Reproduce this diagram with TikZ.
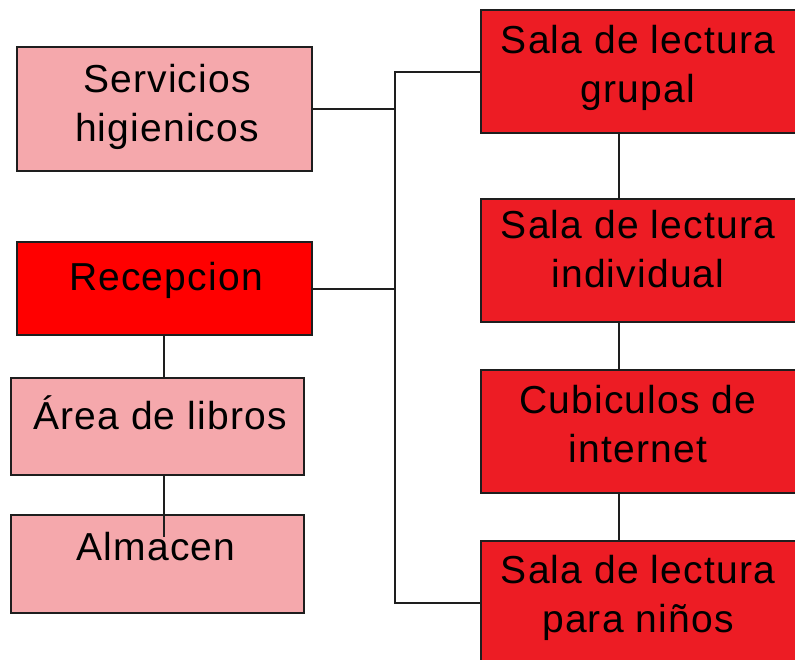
\documentclass[tikz,border=0pt]{standalone}
\usepackage{fontspec}
\setmainfont{Liberation Sans}[LetterSpace=3]
\definecolor{pinkbox}{RGB}{245,168,172}
\definecolor{recred}{RGB}{255,0,0}
\definecolor{salared}{RGB}{237,28,36}
\definecolor{edge}{RGB}{30,30,30}
\tikzset{
  box/.style={draw=edge, line width=2pt, inner sep=0pt, outer sep=0pt},
  pinkb/.style={box, fill=pinkbox},
  redb/.style={box, fill=recred},
  salab/.style={box, fill=salared, minimum width=316pt, minimum height=123pt},
  lbl/.style={font=\fontsize{39}{49}\selectfont, align=center, inner sep=0pt, text=black},
  conn/.style={draw=edge, line width=2pt}
}
\begin{document}
\begin{tikzpicture}[x=1pt,y=-1pt]
\useasboundingbox (0,0) rectangle (795,659);
\clip (0,0) rectangle (795,659);
\fill[white] (0,0) rectangle (795,659);
% left boxes
\node[pinkb, minimum width=295pt, minimum height=124pt] (serv) at (164.5,109) {};
\node[redb, minimum width=295pt, minimum height=93pt] (recep) at (164.5,288.5) {};
\node[pinkb, minimum width=293pt, minimum height=97pt] (area) at (157.5,426.5) {};
\node[pinkb, minimum width=293pt, minimum height=98pt] (alma) at (157.5,564) {};
% right boxes
\node[salab] (grupal) at (639,71.5) {};
\node[salab] (indiv) at (639,260.5) {};
\node[salab] (cubic) at (639,431.5) {};
\node[salab] (ninos) at (639,602.5) {};
% helper coordinates
\coordinate (trunk) at (395,0);
\coordinate (rcol) at (619,0);
\coordinate (lcol) at (164,0);
\coordinate (almaend) at (164,537);
% connectors
\draw[conn] (serv.east) -- (serv.east -| trunk);
\draw[conn] (recep.east) -- (recep.east -| trunk);
\draw[conn] (grupal.west) -- (grupal.west -| trunk) -- (ninos.west -| trunk) -- (ninos.west);
\draw[conn] (grupal.south -| rcol) -- (indiv.north -| rcol);
\draw[conn] (indiv.south -| rcol) -- (cubic.north -| rcol);
\draw[conn] (cubic.south -| rcol) -- (ninos.north -| rcol);
\draw[conn] (recep.south -| lcol) -- (area.north -| lcol);
\draw[conn] (area.south -| lcol) -- (almaend);
% labels
\node[lbl, anchor=north] (tserv) at (167,64.5) {Servicios\\higienicos};
\node[lbl, anchor=base] (trecep) at (166,290) {Recepcion};
\node[lbl, anchor=base] (tarea) at (160,429) {Área de libros};
\node[lbl, anchor=base] (talma) at (156,560) {Almacen};
\node[lbl, anchor=north] (tgrupal) at (638,25.5) {Sala de lectura\\grupal};
\node[lbl, anchor=north] (tindiv) at (638,210.5) {Sala de lectura\\individual};
\node[lbl, anchor=north] (tcubic) at (638,385) {Cubiculos de\\internet};
\node[lbl, anchor=north] (tninos) at (638,555.5) {Sala de lectura\\para niños};
\end{tikzpicture}
\end{document}
